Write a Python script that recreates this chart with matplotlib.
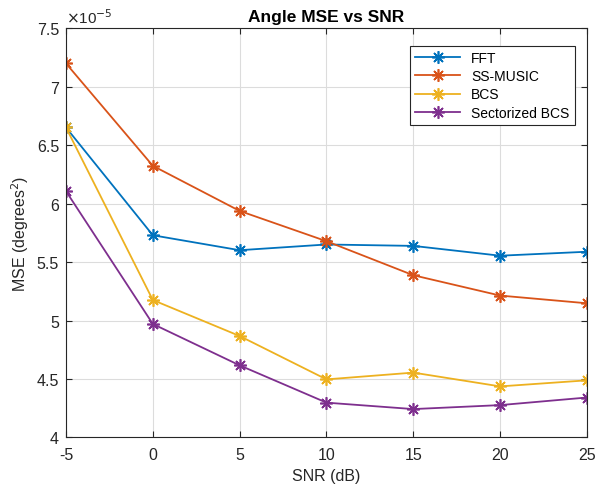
import matplotlib.pyplot as plt
from matplotlib.ticker import FuncFormatter

plt.rcParams['font.family'] = ['Liberation Sans', 'DejaVu Sans']
plt.rcParams['axes.unicode_minus'] = False

snr = [-5, 0, 5, 10, 15, 20, 25]
fft = [6.652, 5.730, 5.602, 5.651, 5.639, 5.555, 5.589]
ss_music = [7.200, 6.324, 5.938, 5.679, 5.388, 5.214, 5.148]
bcs = [6.652, 5.176, 4.868, 4.497, 4.555, 4.437, 4.489]
sect_bcs = [6.107, 4.971, 4.617, 4.298, 4.243, 4.277, 4.342]
scale = 1e-5

labels = ['FFT', 'SS-MUSIC', 'BCS', 'Sectorized BCS']
colors = ['#0072BD', '#D95319', '#EDB120', '#7E2F8E']

fig = plt.figure(figsize=(6.06, 4.89), dpi=100)
ax = fig.add_axes([0.1089, 0.1033, 0.8597, 0.8367])

for ys, lab, c in zip([fft, ss_music, bcs, sect_bcs], labels, colors):
    ax.plot(snr, [v * scale for v in ys], color=c, marker=(8, 2, 0), markersize=9,
            markeredgewidth=1.2, linewidth=1.3, label=lab)

ax.set_xlim(-5, 25)
ax.set_ylim(4 * scale, 7.5 * scale)
ax.set_xticks(snr)
ax.set_yticks([v * scale for v in [4, 4.5, 5, 5.5, 6, 6.5, 7, 7.5]])
ax.yaxis.set_major_formatter(FuncFormatter(lambda v, p: '%g' % round(v / scale, 3)))

ax.grid(True, color='#dcdcdc', linewidth=0.8)
ax.tick_params(direction='in', top=True, right=True, labelsize=11.5,
               colors='#262626', length=4)
ax.tick_params(axis='x', pad=7)
ax.tick_params(axis='y', pad=5)
for s in ax.spines.values():
    s.set_color('#262626')
    s.set_linewidth(0.8)

ax.set_title('Angle MSE vs SNR', fontsize=12.5, fontweight='bold', pad=5)
ax.set_xlabel('SNR (dB)', fontsize=11.5, color='#262626')
ax.set_ylabel('MSE (degrees$^2$)', fontsize=11.5, color='#262626')
ax.text(0.0, 1.005, r'$\times$10$^{\mathsf{-5}}$', transform=ax.transAxes,
        fontsize=11, color='#262626', ha='left', va='bottom')

leg = ax.legend(loc='upper right', fontsize=10, fancybox=False, framealpha=1,
                edgecolor='#262626', borderpad=0.4, labelspacing=0.3,
                handlelength=3.2, bbox_to_anchor=(0.99, 0.975))
leg.get_frame().set_linewidth(0.8)

fig.savefig('out.png', dpi=100)
